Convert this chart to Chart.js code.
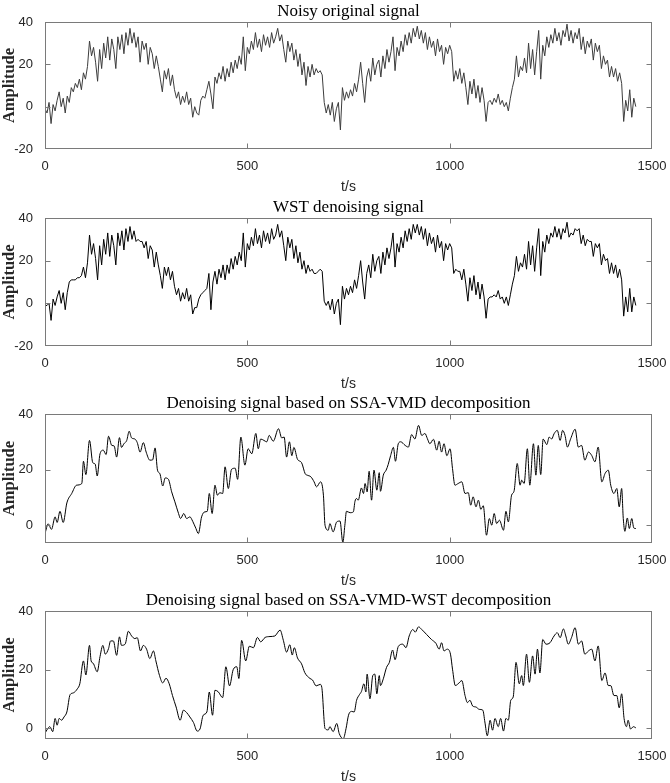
<!DOCTYPE html>
<html>
<head>
<meta charset="utf-8">
<script src="https://cdn.jsdelivr.net/npm/chart.js@4"></script>
<style>
  html, body { margin: 0; padding: 0; background: #fff; overflow: hidden; }
  body { width: 670px; height: 783px; position: relative; }
  canvas { position: absolute; left: 0; }
</style>
</head>
<body>
<script>
// sample step (s) of the two noisy traces
const SAMPLE_STEP = 5;

// Noisy original signal, one value every 5 s from t = 0
const noisyOriginal = [
  -1, -3, 2, -8, 1, -2, 3, 7, 0, 4,
  -3, 5, 2, 9, 7, 11, 9, 13, 8, 16,
  13, 19, 31, 24, 28, 21, 12, 27, 18, 30,
  23, 33, 22, 32, 27, 18, 33, 27, 34, 25,
  35, 29, 37, 30, 35, 28, 33, 21, 31, 27,
  30, 20, 28, 25, 18, 24, 19, 13, 7, 17,
  13, 18, 10, 15, 8, 4, 7, 1, 5, 2,
  7, 1, 4, -5, 0, -3, -4, 3, 5, 4,
  8, 12, 6, -1, 14, 11, 16, 13, 19, 12,
  18, 14, 21, 16, 22, 18, 24, 20, 33, 17,
  28, 25, 31, 27, 35, 28, 32, 26, 34, 29,
  33, 28, 35, 30, 33, 37, 31, 34, 27, 21,
  31, 26, 30, 22, 27, 19, 25, 15, 21, 10,
  19, 14, 20, 15, 18, 16, 17, 15, 2, -3,
  1, -4, 2, -7, -1, 2, -11, 9, 3, 7,
  4, 8, 5, 11, 7, 13, 21, 11, 2, 14,
  18, 12, 23, 15, 20, 22, 14, 24, 18, 27,
  21, 26, 33, 17, 28, 24, 31, 26, 34, 29,
  35, 30, 37, 33, 38, 32, 36, 30, 35, 27,
  33, 28, 31, 24, 32, 26, 29, 20, 28, 25,
  29, 26, 12, 17, 13, 18, 11, 16, 9, 1,
  12, 6, 13, 4, 10, 2, 9, 3, -7, 2,
  3, 1, 4, 2, 6, 1, 3, 0, 2, -2,
  4, 9, 13, 24, 14, 19, 17, 23, 16, 30,
  18, 27, 15, 26, 36, 13, 29, 24, 33, 28,
  34, 30, 37, 31, 35, 29, 36, 33, 39, 31,
  36, 30, 35, 32, 37, 27, 33, 25, 31, 28,
  32, 22, 30, 26, 29, 18, 24, 20, 22, 14,
  19, 14, 18, 12, 16, 11, -7, 3, -2, 8,
  -5, 4, 0
];

// WST denoising signal, same sampling
const wstDenoised = [
  -1, -1, 0, -8, 2, -1, 3, 6, 0, 5,
  -3, 5, 10, 11, 11, 11, 12, 12, 13, 17,
  12, 19, 32, 23, 28, 21, 11, 27, 18, 30,
  23, 33, 22, 32, 27, 18, 33, 27, 34, 25,
  35, 29, 36, 30, 34, 29, 30, 29, 29, 26,
  29, 21, 27, 25, 17, 24, 18, 13, 7, 17,
  13, 17, 11, 15, 8, 4, 7, 1, 5, 2,
  7, 1, 4, -5, -2, -2, 2, 4, 5, 6,
  7, 14, -3, 10, 15, 9, 16, 12, 18, 11,
  18, 14, 21, 16, 22, 18, 24, 20, 33, 17,
  28, 25, 31, 27, 35, 28, 32, 26, 34, 29,
  33, 28, 35, 30, 32, 37, 31, 34, 27, 20,
  31, 26, 30, 21, 27, 19, 24, 16, 20, 14,
  18, 15, 16, 14, 14, 15, 16, 15, 1, -1,
  1, -3, 2, -5, 0, 2, -10, 8, 2, 7,
  4, 8, 5, 11, 7, 13, 20, 10, 2, 14,
  18, 12, 23, 15, 20, 22, 14, 24, 18, 26,
  21, 26, 33, 17, 28, 24, 31, 26, 34, 29,
  35, 30, 37, 33, 37, 32, 36, 30, 35, 27,
  33, 28, 31, 24, 32, 26, 29, 20, 28, 25,
  28, 26, 14, 16, 15, 15, 11, 16, 9, 1,
  12, 6, 13, 4, 10, 2, 9, 3, -7, 2,
  3, 3, 4, 3, 6, 2, 3, 0, 3, -1,
  4, 9, 13, 22, 15, 19, 17, 23, 16, 29,
  18, 27, 15, 26, 35, 13, 29, 24, 32, 28,
  33, 31, 36, 31, 35, 30, 35, 33, 38, 31,
  33, 32, 35, 34, 35, 28, 32, 27, 30, 29,
  29, 22, 28, 26, 28, 18, 23, 20, 21, 14,
  19, 14, 18, 12, 16, 11, -6, 3, -4, 7,
  -4, 3, -1
];

// SSA-VMD denoising: turning points (t, amplitude)
const ssaVmdT = [0, 8, 16, 25, 30, 37, 45, 54, 66, 78, 91, 95, 101, 110, 118, 124, 129, 136, 144, 151,
  157, 165, 171, 177, 184, 189, 195, 202, 208, 214, 222, 228, 235, 243, 250, 259, 266, 272, 278, 284,
  291, 297, 305, 313, 321, 330, 335, 343, 350, 358, 365, 373, 379, 387, 395, 401, 406, 413, 420, 426,
  432, 439, 445, 453, 461, 470, 476, 484, 494, 502, 511, 521, 527, 533, 541, 548, 554, 564, 577, 585,
  591, 597, 604, 610, 615, 624, 634, 643, 648, 657, 665, 671, 681, 688, 692, 700, 704, 712, 721, 729,
  736, 741, 745, 754, 762, 766, 770, 774, 782, 787, 791, 796, 801, 807, 813, 820, 826, 829, 836, 843,
  848, 854, 861, 866, 873, 879, 890, 898, 906, 914, 923, 931, 939, 945, 951, 960, 968, 974, 980, 986,
  993, 1001, 1007, 1013, 1021, 1030, 1038, 1046, 1052, 1058, 1065, 1071, 1077, 1083, 1091, 1098, 1104, 1110, 1116, 1123,
  1133, 1139, 1145, 1153, 1159, 1167, 1174, 1178, 1184, 1192, 1198, 1207, 1213, 1219, 1225, 1231, 1240, 1246, 1252, 1258,
  1266, 1273, 1279, 1285, 1291, 1299, 1310, 1318, 1326, 1334, 1343, 1351, 1359, 1367, 1376, 1384, 1392, 1398, 1406, 1413,
  1419, 1425, 1429, 1433, 1439, 1444, 1450, 1455, 1460];
const ssaVmdV = [-3, 0.5, -1.5, 3, 1, 5, 1, 8, 11.4, 14.4, 15, 23, 18.2, 30.5, 22.5, 22, 17.7, 25.7, 27, 25.4,
  32, 28.7, 28.5, 24.5, 31.5, 28, 29.3, 30.5, 33.8, 31.4, 31, 29.7, 26.3, 29.7, 26.3, 23.4, 23.5, 27.8, 19.8, 18.5,
  14.1, 17, 16.5, 12, 8.4, 4.2, 2.4, 4.2, 2.4, 3, 1.4, -1.2, -3, 3, 4.8, 5, 11.4, 4.2, 14.4, 10.8,
  11.7, 11.4, 21, 13.2, 20.1, 20.5, 16.5, 31.7, 21.6, 27.5, 25.7, 33, 27.5, 31, 30.5, 30, 32.3, 30.2, 34.7, 31.4,
  31.7, 24.5, 30, 25, 28, 23.7, 22.5, 18.5, 18, 17.4, 15.6, 13.8, 15.6, 10.8, 0, -1.8, 0.6, -2.4, 1.2, 1.5,
  -6.2, 0, 5, 4.5, 4.8, 8.6, 9.6, 9, 13.4, 11.4, 15, 12, 19.4, 9, 19.8, 12.6, 18.9, 12.2, 18, 19.8,
  21.8, 25, 28, 23, 29.3, 30, 28.7, 28.1, 32.6, 31, 35.9, 32.3, 33, 31.1, 29.3, 30.9, 27, 30.2, 26.3, 29.3,
  25, 27.5, 20.4, 14.4, 15, 15.6, 11.4, 11.7, 7.2, 10.2, 6.6, 9, 5.7, 7, -3.6, 2.4, 0, 4.2, 0.6, 1.8,
  -1.8, 5, 1.2, 10.8, 12.2, 22.2, 14.4, 16.2, 15, 27.5, 14.4, 29.3, 18, 28.7, 18.2, 31, 29, 31.7, 31, 32.9,
  34.1, 30.5, 34.1, 32.3, 28.1, 31.1, 34.5, 28.1, 28.7, 23.4, 26.3, 25.1, 22.8, 28.1, 15.6, 18.6, 19.8, 14.4, 11.4, 13.2,
  6.6, 13.2, 2.4, -2.2, 2.6, -1.2, 2.4, -1, -1.2];

// SSA-VMD-WST denoising: turning points (t, amplitude)
const ssaVmdWstT = [0, 6, 12, 19, 25, 30, 35, 41, 47, 54, 62, 70, 80, 86, 95, 101, 110, 114, 119, 129,
  136, 143, 149, 157, 162, 169, 177, 184, 189, 198, 206, 214, 222, 228, 236, 243, 251, 259, 268, 274,
  283, 291, 299, 307, 315, 324, 334, 342, 350, 358, 367, 376, 383, 391, 400, 406, 414, 420, 428, 439,
  447, 456, 465, 474, 479, 486, 496, 505, 515, 525, 533, 544, 556, 568, 581, 589, 597, 605, 611, 616,
  624, 634, 642, 655, 661, 670, 680, 684, 692, 700, 704, 712, 721, 727, 737, 744, 750, 758, 764, 770,
  777, 782, 788, 793, 796, 803, 810, 815, 820, 826, 829, 836, 844, 851, 859, 865, 873, 884, 892, 900,
  909, 915, 923, 931, 943, 955, 966, 974, 980, 986, 994, 1002, 1007, 1014, 1021, 1030, 1038, 1044, 1050, 1057,
  1065, 1073, 1082, 1087, 1093, 1100, 1106, 1112, 1120, 1126, 1133, 1139, 1145, 1151, 1157, 1164, 1172, 1178, 1182, 1190,
  1197, 1205, 1211, 1217, 1223, 1230, 1238, 1248, 1258, 1266, 1273, 1281, 1287, 1293, 1301, 1310, 1318, 1326, 1334, 1343,
  1351, 1359, 1367, 1376, 1384, 1392, 1398, 1406, 1413, 1419, 1425, 1431, 1437, 1441, 1447, 1454, 1460];
const ssaVmdWstV = [-1.7, -0.2, 0.6, -1.1, 3.4, 1.1, 3.4, 2.8, 3.9, 5.6, 11.5, 12.1, 13.5, 15.2, 23, 18.2, 28.3, 23, 22.2, 19.3,
  24.5, 28.3, 25.3, 27.2, 29.8, 29.8, 24.9, 31.2, 28.3, 28.7, 33.1, 31.5, 30.6, 30.9, 26.4, 28.3, 27, 23.8, 26.4, 23,
  18, 15.5, 17.1, 15.2, 11.2, 7.3, 2.8, 6.2, 5.4, 3.9, 2, -0.9, -0.2, 4.5, 5.6, 12.4, 4.5, 13, 12.5, 10.5,
  21, 14.5, 20, 21, 17, 30, 23, 28, 27.5, 31, 29.5, 31, 31.3, 31.5, 33.5, 30, 26, 28.5, 25, 27.5,
  24, 22, 19, 17, 16.5, 14.5, 15, 14, 0, -0.5, 0.6, -1.1, 1.7, -1.7, -3.5, 0, 4.5, 5.8, 5.6, 9.6,
  11.5, 12.6, 15.2, 12.4, 18.5, 10.1, 18, 18.5, 11.8, 18, 14.6, 16.9, 20.8, 22.5, 26.7, 23.4, 27.9, 28.7, 27.5, 31.5,
  33.7, 32.8, 34.6, 33.7, 32, 30.3, 29, 27, 29.2, 26.4, 27, 25.3, 20.2, 14.6, 15.2, 16.3, 11.2, 8.8, 9.6, 7.6,
  7.3, 6.5, 6.2, 2.2, -2.5, 2.8, -0.6, 3.4, 0.6, 3.4, -0.9, 3.4, 2.8, 9.6, 10.7, 22.5, 15.2, 18, 14.6, 25.3,
  15.7, 24.7, 18.5, 27, 18.9, 30.3, 28.7, 29.2, 31.5, 32.6, 30.9, 33.9, 31.5, 28.7, 30.9, 34.3, 28.7, 29.8, 25.3, 26.4,
  27, 23, 28.1, 16.3, 18.9, 14.6, 14.6, 11.2, 11.2, 7, 11.8, 3.4, 0.6, 2.8, -0.2, 0.6, 0.2];

const panelTitles = [
  "Noisy original signal",
  "WST denoising signal",
  "Denoising signal based on SSA-VMD decomposition",
  "Denoising signal based on SSA-VMD-WST decomposition"
];
const xTicks = [0, 500, 1000, 1500];
const yTicksWide = [-20, 0, 20, 40];
const yTicksNarrow = [0, 20, 40];

const noisyT = noisyOriginal.map((_, i) => i * SAMPLE_STEP);
function pairs(ts, vs) { return ts.map((t, i) => ({ x: t, y: vs[i] })); }

// matlab style box, inward ticks and title above the axes
const boxPlugin = {
  id: "boxPlugin",
  afterDraw(chart, args, opts) {
    const { ctx, chartArea: a, scales } = chart;
    const L = Math.round(a.left) + 0.5, R = Math.round(a.right) - 0.5;
    const T = Math.round(a.top) + 0.5, B = Math.round(a.bottom) - 0.5;
    ctx.save();
    ctx.strokeStyle = "#7a7a7a";
    ctx.lineWidth = 1;
    ctx.strokeRect(L, T, R - L, B - T);
    ctx.beginPath();
    xTicks.forEach(v => {
      const px = Math.round(scales.x.getPixelForValue(v)) + 0.5;
      if (px <= L + 1 || px >= R - 1) return;
      ctx.moveTo(px, B); ctx.lineTo(px, B - 5);
      ctx.moveTo(px, T); ctx.lineTo(px, T + 5);
    });
    opts.yTicks.forEach(v => {
      const py = Math.round(scales.y.getPixelForValue(v)) + 0.5;
      if (py <= T + 1 || py >= B - 1) return;
      ctx.moveTo(L, py); ctx.lineTo(L + 5, py);
      ctx.moveTo(R, py); ctx.lineTo(R - 5, py);
    });
    ctx.stroke();
    ctx.fillStyle = "#000";
    ctx.font = '17px "Liberation Serif", "DejaVu Serif", serif';
    ctx.textAlign = "center";
    ctx.textBaseline = "alphabetic";
    ctx.fillText(opts.title, (a.left + a.right) / 2, a.top - 6);
    ctx.restore();
  }
};

function noPad(s) {
  s.paddingLeft = 0; s.paddingRight = 0; s.paddingTop = 0; s.paddingBottom = 0;
}

function drawPanel(top, plotH, title, data, yMin, yTicks, color, smooth) {
  const canvas = document.createElement("canvas");
  const h = 22 + plotH + 47;
  canvas.width = 670;
  canvas.height = h;
  canvas.style.top = (top - 22) + "px";
  canvas.style.width = "670px";
  canvas.style.height = h + "px";
  document.body.appendChild(canvas);

  new Chart(canvas.getContext("2d"), {
    type: "line",
    data: {
      datasets: [{
        data: data,
        borderColor: color,
        borderWidth: 1,
        pointRadius: 0,
        fill: false,
        tension: 0,
        cubicInterpolationMode: smooth ? "monotone" : "default"
      }]
    },
    options: {
      responsive: false,
      animation: false,
      layout: { padding: { top: 22, right: 18, left: 0, bottom: 0 } },
      plugins: {
        legend: { display: false },
        tooltip: { enabled: false },
        boxPlugin: { title: title, yTicks: yTicks }
      },
      scales: {
        x: {
          type: "linear",
          min: 0,
          max: 1500,
          afterBuildTicks: s => { s.ticks = xTicks.map(v => ({ value: v })); },
          afterFit: s => { s.height = 47; noPad(s); },
          grid: { display: false },
          border: { display: false },
          ticks: {
            padding: 2,
            maxRotation: 0,
            color: "#262626",
            callback: v => String(v),
            font: { family: '"Liberation Sans", Arial, sans-serif', size: 13 }
          },
          title: {
            display: true,
            text: "t/s",
            color: "#262626",
            padding: { top: 0, bottom: 0 },
            font: { family: '"Liberation Sans", Arial, sans-serif', size: 14 }
          }
        },
        y: {
          min: yMin,
          max: 40,
          afterBuildTicks: s => { s.ticks = yTicks.map(v => ({ value: v })); },
          afterFit: s => { s.width = 45; noPad(s); },
          grid: { display: false },
          border: { display: false },
          ticks: {
            padding: 4,
            color: "#262626",
            callback: v => String(v),
            font: { family: '"Liberation Sans", Arial, sans-serif', size: 13 }
          },
          title: {
            display: true,
            text: "Amplitude",
            color: "#262626",
            padding: { top: 0, bottom: 0 },
            font: { family: '"Liberation Serif", "DejaVu Serif", serif', size: 16.5, weight: "bold" }
          }
        }
      }
    },
    plugins: [boxPlugin]
  });
}

drawPanel(22, 127, panelTitles[0], pairs(noisyT, noisyOriginal), -20, yTicksWide, "#3c3c3c", false);
drawPanel(218, 128, panelTitles[1], pairs(noisyT, wstDenoised), -20, yTicksWide, "#000000", false);
drawPanel(414, 129, panelTitles[2], pairs(ssaVmdT, ssaVmdV), -6.4, yTicksNarrow, "#000000", true);
drawPanel(611, 128, panelTitles[3], pairs(ssaVmdWstT, ssaVmdWstV), -3.6, yTicksNarrow, "#000000", true);
</script>
</body>
</html>
